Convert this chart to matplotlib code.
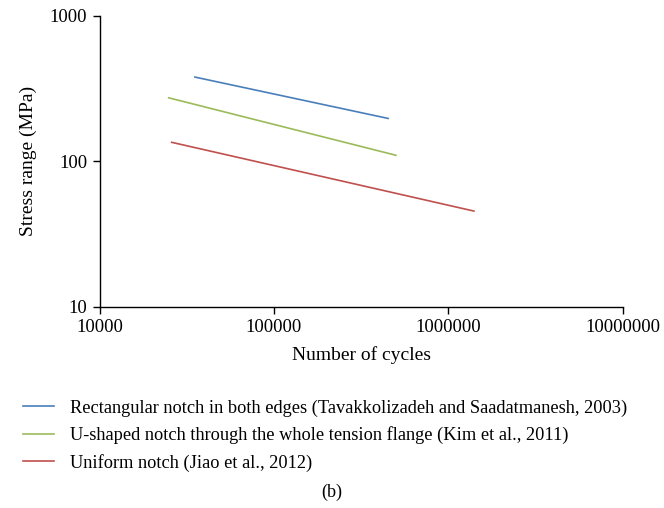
import matplotlib
matplotlib.use("Agg")
import matplotlib.pyplot as plt
from matplotlib.ticker import FixedLocator, FixedFormatter, NullLocator

plt.rcParams['font.family'] = ['Liberation Serif', 'DejaVu Serif']

labels = [
    "Rectangular notch in both edges (Tavakkolizadeh and Saadatmanesh, 2003)",
    "U-shaped notch through the whole tension flange (Kim et al., 2011)",
    "Uniform notch (Jiao et al., 2012)",
]
cycles_rect = [35200, 451000]
stress_rect = [379, 197]
cycles_u = [24900, 500000]
stress_u = [273, 110]
cycles_uni = [25900, 1400000]
stress_uni = [135, 45.5]
colors = ["#4a7ebb", "#9bbb59", "#c0504d"]

xticks = [10000, 100000, 1000000, 10000000]
xticklabels = ["10000", "100000", "1000000", "10000000"]
yticks = [10, 100, 1000]
yticklabels = ["10", "100", "1000"]

fig = plt.figure(figsize=(6.64, 5.08), dpi=100)
ax = fig.add_axes([0.150, 0.396, 0.788, 0.573])

series = [(cycles_rect, stress_rect), (cycles_u, stress_u), (cycles_uni, stress_uni)]
handles = []
for (xs, ys), c, lab in zip(series, colors, labels):
    h, = ax.plot(xs, ys, color=c, lw=1.2, label=lab)
    handles.append(h)

ax.set_xscale('log')
ax.set_yscale('log')
ax.set_xlim(1e4, 1e7)
ax.set_ylim(10, 1000)
ax.xaxis.set_major_locator(FixedLocator(xticks))
ax.xaxis.set_major_formatter(FixedFormatter(xticklabels))
ax.yaxis.set_major_locator(FixedLocator(yticks))
ax.yaxis.set_major_formatter(FixedFormatter(yticklabels))
ax.xaxis.set_minor_locator(NullLocator())
ax.yaxis.set_minor_locator(NullLocator())
for s in ['top', 'right']:
    ax.spines[s].set_visible(False)
for s in ['left', 'bottom']:
    ax.spines[s].set_linewidth(1.0)
ax.tick_params(axis='both', which='major', direction='out', length=5, width=1.0,
               labelsize=13.5, pad=4)
ax.set_xlabel("Number of cycles", fontsize=14, labelpad=7)
ax.set_ylabel("Stress range (MPa)", fontsize=14, labelpad=9)

fig.legend(handles=handles, labels=labels, loc='upper left',
           bbox_to_anchor=(0.024, 0.228), frameon=False, fontsize=13.2,
           handlelength=1.65, handletextpad=0.9, labelspacing=0.52,
           borderaxespad=0)

fig.text(0.5, 0.03, "(b)", ha='center', va='center', fontsize=13)

fig.savefig("out.png", dpi=100)
